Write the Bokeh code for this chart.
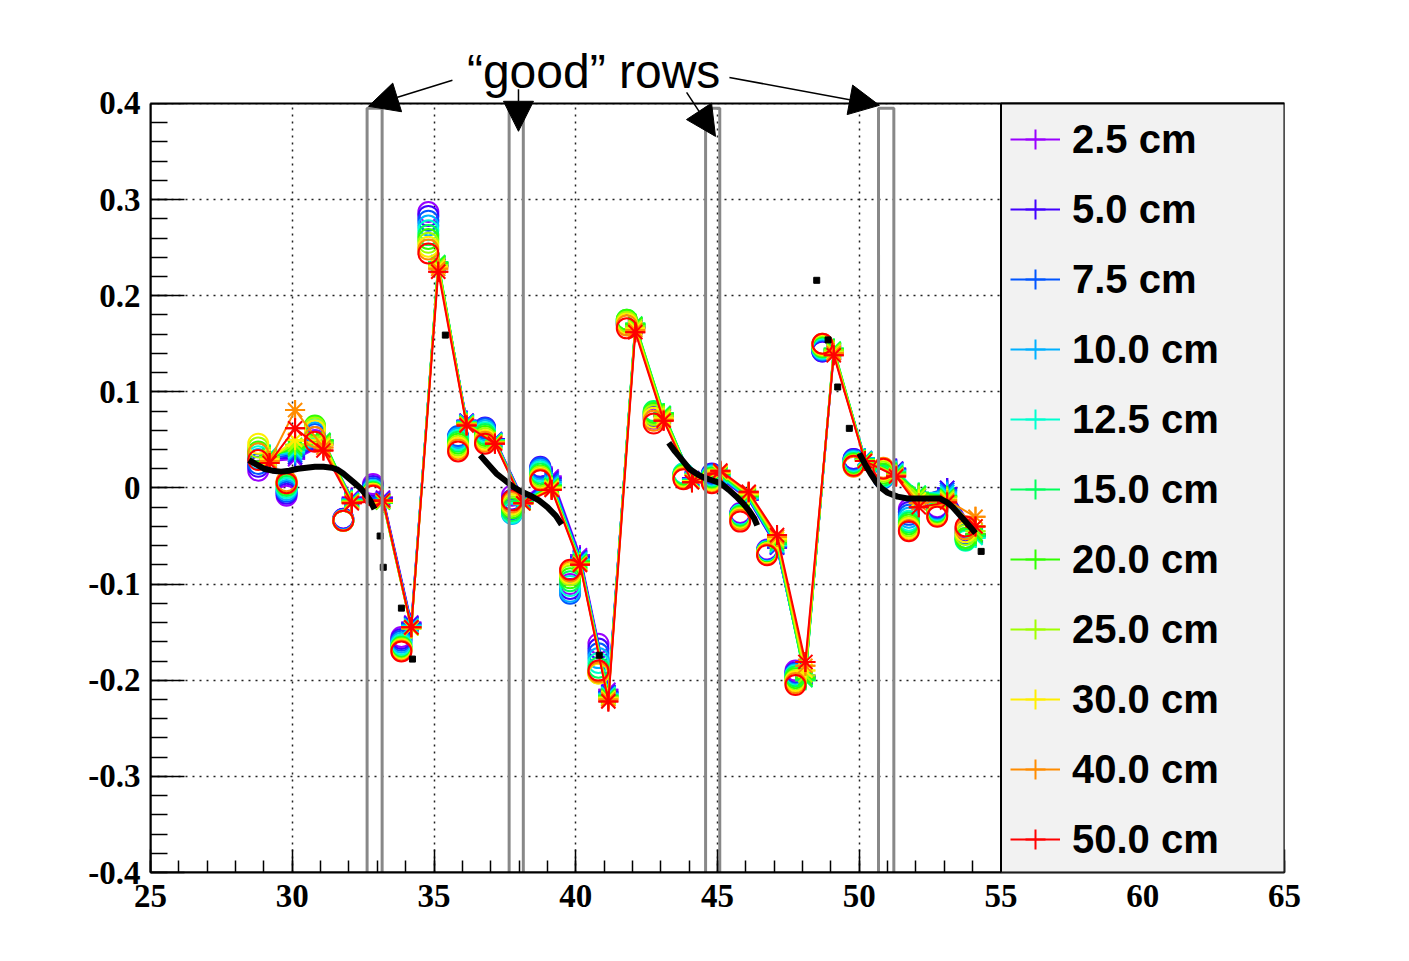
from bokeh.plotting import figure
from bokeh.models import (Range1d, FixedTicker, CustomJSTickFormatter, BoxAnnotation,
                          Legend, LegendItem, Arrow, NormalHead, Label, ColumnDataSource)
from bokeh.embed import file_html
from bokeh.resources import INLINE

# ---------------- data ----------------
series_labels = ["2.5 cm", "5.0 cm", "7.5 cm", "10.0 cm", "12.5 cm", "15.0 cm",
                 "20.0 cm", "25.0 cm", "30.0 cm", "40.0 cm", "50.0 cm"]
series_colors = ["#9900ff", "#4200ff", "#0055ff", "#00b0ff", "#00ffd0", "#00ff5a",
                 "#30ff00", "#a0ff00", "#ffee00", "#ff8c00", "#ff0000"]

circle_x = [28.8, 29.8, 30.8, 31.8, 32.85, 33.85, 34.8, 35.85, 36.8, 37.75, 38.75, 39.8, 40.8,
            41.8, 42.75, 43.8, 44.8, 45.8, 46.75, 47.75, 48.7, 49.8, 50.85, 51.75, 52.75, 53.75]
star_x = [29.2, 30.1, 31.1, 32.1, 33.2, 34.2, 35.15, 36.15, 37.15, 38.15, 39.15, 40.15, 41.15,
          42.1, 43.1, 44.1, 45.1, 46.1, 47.1, 48.1, 49.1, 50.2, 51.3, 52.1, 53.1, 54.1]

c_2p5 = [0.018, -0.008, 0.050, -0.032, 0.004, -0.155, 0.287, 0.052, 0.062, -0.008, 0.020, -0.100, -0.162,
         0.170, 0.072, 0.012, 0.014, -0.026, -0.064, -0.190, 0.142, 0.030, 0.012, -0.022, -0.020, -0.042]
c_5p0 = [0.022, -0.006, 0.053, -0.032, 0.002, -0.157, 0.283, 0.053, 0.063, -0.012, 0.022, -0.105, -0.167,
         0.171, 0.074, 0.013, 0.015, -0.027, -0.065, -0.192, 0.142, 0.030, 0.011, -0.025, -0.021, -0.045]
c_7p5 = [0.025, -0.004, 0.056, -0.033, 0.000, -0.159, 0.278, 0.054, 0.062, -0.022, 0.021, -0.110, -0.172,
         0.172, 0.076, 0.014, 0.014, -0.028, -0.065, -0.193, 0.143, 0.029, 0.010, -0.028, -0.022, -0.048]
c_10p0 = [0.030, -0.002, 0.058, -0.033, -0.002, -0.161, 0.273, 0.052, 0.060, -0.027, 0.019, -0.108, -0.177,
          0.173, 0.078, 0.015, 0.013, -0.028, -0.066, -0.194, 0.144, 0.028, 0.011, -0.031, -0.023, -0.052]
c_12p5 = [0.033, 0.000, 0.061, -0.034, -0.003, -0.163, 0.268, 0.050, 0.058, -0.026, 0.017, -0.102, -0.182,
          0.174, 0.079, 0.015, 0.012, -0.028, -0.066, -0.195, 0.145, 0.027, 0.012, -0.034, -0.024, -0.055]
c_15p0 = [0.036, 0.002, 0.064, -0.034, -0.004, -0.165, 0.263, 0.048, 0.056, -0.024, 0.015, -0.097, -0.187,
          0.175, 0.080, 0.014, 0.011, -0.029, -0.067, -0.196, 0.146, 0.026, 0.013, -0.036, -0.025, -0.054]
c_20p0 = [0.038, 0.004, 0.065, -0.034, -0.005, -0.166, 0.259, 0.046, 0.054, -0.021, 0.013, -0.094, -0.191,
          0.175, 0.078, 0.013, 0.010, -0.030, -0.067, -0.198, 0.147, 0.025, 0.015, -0.038, -0.026, -0.052]
c_25p0 = [0.042, 0.005, 0.063, -0.034, -0.006, -0.167, 0.255, 0.044, 0.052, -0.019, 0.012, -0.091, -0.193,
          0.173, 0.076, 0.012, 0.009, -0.031, -0.068, -0.200, 0.148, 0.024, 0.017, -0.040, -0.027, -0.049]
c_30p0 = [0.046, 0.006, 0.060, -0.034, -0.006, -0.168, 0.251, 0.042, 0.050, -0.017, 0.010, -0.089, -0.193,
          0.171, 0.073, 0.011, 0.008, -0.032, -0.068, -0.201, 0.149, 0.023, 0.019, -0.042, -0.028, -0.046]
c_40p0 = [0.036, 0.007, 0.053, -0.034, -0.007, -0.169, 0.248, 0.040, 0.048, -0.015, 0.009, -0.087, -0.192,
          0.169, 0.070, 0.010, 0.006, -0.033, -0.069, -0.203, 0.150, 0.022, 0.021, -0.044, -0.029, -0.043]
c_50p0 = [0.029, 0.005, 0.048, -0.034, -0.008, -0.170, 0.244, 0.038, 0.046, -0.013, 0.008, -0.085, -0.190,
          0.166, 0.067, 0.009, 0.005, -0.035, -0.070, -0.205, 0.150, 0.023, 0.020, -0.045, -0.030, -0.040]

s_2p5 = [0.028, 0.030, 0.045, -0.010, -0.010, -0.140, 0.230, 0.070, 0.050, -0.012, 0.012, -0.070, -0.210,
         0.166, 0.074, 0.010, 0.010, -0.012, -0.062, -0.195, 0.140, 0.030, 0.020, -0.012, 0.000, -0.048]
s_5p0 = [0.030, 0.032, 0.046, -0.011, -0.011, -0.141, 0.231, 0.070, 0.051, -0.013, 0.010, -0.072, -0.212,
         0.167, 0.075, 0.010, 0.011, -0.012, -0.062, -0.196, 0.141, 0.030, 0.020, -0.010, 0.000, -0.049]
s_7p5 = [0.032, 0.034, 0.047, -0.012, -0.012, -0.142, 0.232, 0.069, 0.050, -0.014, 0.008, -0.073, -0.213,
         0.168, 0.076, 0.009, 0.011, -0.011, -0.061, -0.197, 0.142, 0.031, 0.019, -0.008, -0.002, -0.050]
s_10p0 = [0.034, 0.036, 0.048, -0.012, -0.013, -0.143, 0.233, 0.069, 0.050, -0.014, 0.006, -0.074, -0.214,
          0.169, 0.077, 0.009, 0.012, -0.011, -0.060, -0.198, 0.143, 0.031, 0.018, -0.006, -0.004, -0.051]
s_12p5 = [0.035, 0.038, 0.049, -0.013, -0.014, -0.144, 0.234, 0.068, 0.049, -0.015, 0.004, -0.075, -0.215,
          0.170, 0.078, 0.008, 0.013, -0.010, -0.059, -0.199, 0.144, 0.030, 0.017, -0.005, -0.006, -0.052]
s_15p0 = [0.034, 0.040, 0.050, -0.013, -0.015, -0.145, 0.235, 0.068, 0.049, -0.015, 0.003, -0.076, -0.216,
          0.171, 0.078, 0.008, 0.014, -0.009, -0.058, -0.200, 0.145, 0.030, 0.016, -0.005, -0.008, -0.050]
s_20p0 = [0.033, 0.042, 0.049, -0.014, -0.015, -0.146, 0.234, 0.067, 0.048, -0.015, 0.002, -0.077, -0.217,
          0.170, 0.077, 0.007, 0.015, -0.008, -0.056, -0.198, 0.144, 0.029, 0.015, -0.006, -0.009, -0.048]
s_25p0 = [0.032, 0.045, 0.047, -0.014, -0.014, -0.146, 0.232, 0.067, 0.048, -0.016, 0.001, -0.078, -0.218,
          0.168, 0.075, 0.007, 0.016, -0.007, -0.055, -0.195, 0.143, 0.029, 0.014, -0.008, -0.010, -0.045]
s_30p0 = [0.030, 0.050, 0.045, -0.015, -0.014, -0.146, 0.230, 0.066, 0.047, -0.016, 0.000, -0.079, -0.219,
          0.166, 0.073, 0.007, 0.016, -0.006, -0.053, -0.190, 0.141, 0.028, 0.013, -0.012, -0.012, -0.040]
s_40p0 = [0.028, 0.081, 0.042, -0.015, -0.013, -0.145, 0.228, 0.066, 0.047, -0.016, -0.001, -0.079, -0.220,
          0.164, 0.071, 0.006, 0.017, -0.005, -0.051, -0.185, 0.140, 0.028, 0.013, -0.016, -0.013, -0.030]
s_50p0 = [0.026, 0.062, 0.039, -0.016, -0.013, -0.145, 0.225, 0.065, 0.046, -0.016, -0.002, -0.080, -0.222,
          0.162, 0.070, 0.006, 0.018, -0.004, -0.049, -0.181, 0.138, 0.028, 0.012, -0.020, -0.015, -0.040]

circle_y = [c_2p5, c_5p0, c_7p5, c_10p0, c_12p5, c_15p0, c_20p0, c_25p0, c_30p0, c_40p0, c_50p0]
star_y = [s_2p5, s_5p0, s_7p5, s_10p0, s_12p5, s_15p0, s_20p0, s_25p0, s_30p0, s_40p0, s_50p0]

# black reference curve (dense segments) and isolated black points
curve1_x = [28.47, 28.7, 29.0, 29.3, 29.6, 29.9, 30.2, 30.5, 30.8, 31.1, 31.4, 31.6, 31.8, 32.0, 32.2, 32.4, 32.6, 32.75, 32.9]
curve1_y = [0.029, 0.025, 0.020, 0.018, 0.017, 0.018, 0.020, 0.021, 0.022, 0.022, 0.021, 0.019, 0.015, 0.010, 0.005, 0.000, -0.007, -0.013, -0.022]
curve2_x = [36.63, 36.9, 37.2, 37.5, 37.8, 38.1, 38.4, 38.7, 39.0, 39.3, 39.5]
curve2_y = [0.034, 0.025, 0.015, 0.008, 0.001, -0.004, -0.008, -0.013, -0.020, -0.029, -0.038]
curve3_x = [43.28, 43.5, 43.67, 44.0, 44.25, 44.5, 44.8, 45.1, 45.4, 45.7, 45.9, 46.1, 46.3, 46.4]
curve3_y = [0.047, 0.038, 0.032, 0.020, 0.015, 0.011, 0.008, 0.005, -0.002, -0.010, -0.016, -0.023, -0.032, -0.039]
curve4_x = [50.0, 50.2, 50.4, 50.6, 50.77, 51.0, 51.35, 51.7, 52.0, 52.4, 52.85, 53.1, 53.3, 53.6, 53.9, 54.1]
curve4_y = [0.036, 0.025, 0.015, 0.006, 0.000, -0.005, -0.009, -0.011, -0.011, -0.011, -0.011, -0.015, -0.020, -0.030, -0.040, -0.047]
dots_x = [33.1, 33.21, 33.85, 34.24, 35.4, 40.83, 48.5, 48.9, 49.24, 49.65, 54.3]
dots_y = [-0.050, -0.0825, -0.125, -0.178, 0.159, -0.174, 0.216, 0.154, 0.105, 0.062, -0.066]

# "good" rows boxes
good_left = [32.64, 37.65, 44.58, 50.68]
good_right = [33.17, 38.15, 45.08, 51.22]
good_bottom = [-0.401, -0.401, -0.401, -0.401]
good_top = [0.395, 0.395, 0.395, 0.395]

# annotation arrows
arrow_x0 = [35.65, 37.98, 43.91, 45.42]
arrow_y0 = [0.424, 0.4146, 0.4114, 0.427]
arrow_x1 = [32.69, 37.98, 44.93, 50.71]
arrow_y1 = [0.397, 0.371, 0.3657, 0.398]
annot_text = "\u201cgood\u201d rows"

x_ticks = [25, 30, 35, 40, 45, 50, 55, 60, 65]
x_minor = list(range(25, 66))
y_ticks = [-0.4, -0.3, -0.2, -0.1, 0, 0.1, 0.2, 0.3, 0.4]
y_tick_labels = ["-0.4", "-0.3", "-0.2", "-0.1", "0", "0.1", "0.2", "0.3", "0.4"]
y_minor = [round(-0.4 + 0.02 * i, 2) for i in range(41)]

# ---------------- figure ----------------
p = figure(frame_width=1134, frame_height=846,
           x_range=Range1d(25, 65), y_range=Range1d(-0.4, 0.48),
           output_backend="svg", toolbar_location=None,
           min_border_left=150, min_border_top=26, min_border_right=110, min_border_bottom=70,
           background_fill_color="white", border_fill_color="white")
p.outline_line_color = None

# axes
p.xaxis.ticker = FixedTicker(ticks=x_ticks, minor_ticks=x_minor)
p.yaxis.ticker = FixedTicker(ticks=y_ticks, minor_ticks=y_minor)
p.yaxis.bounds = (-0.4, 0.4)
p.yaxis.formatter = CustomJSTickFormatter(code="return Math.abs(tick) < 1e-9 ? '0' : tick.toFixed(1);")
p.yaxis.major_label_overrides = {t: l for t, l in zip(y_ticks, y_tick_labels)}
for ax in (p.xaxis[0], p.yaxis[0]):
    ax.axis_line_width = 2
    ax.axis_line_color = "black"
    ax.major_tick_line_width = 1.5
    ax.minor_tick_line_width = 1.5
    ax.major_tick_out = 0
    ax.minor_tick_out = 0
    ax.major_label_text_font = "Liberation Serif"
    ax.major_label_text_font_style = "bold"
    ax.major_label_text_font_size = "33px"
    ax.major_label_text_color = "black"
p.xaxis.major_tick_in = 23
p.xaxis.minor_tick_in = 12
p.yaxis.major_tick_in = 34
p.yaxis.minor_tick_in = 17
p.yaxis.major_label_standoff = 10
p.xaxis.major_label_standoff = 12

# grid
p.xgrid.ticker = FixedTicker(ticks=x_ticks)
p.ygrid.ticker = FixedTicker(ticks=y_ticks)
for g in (p.xgrid[0], p.ygrid[0]):
    g.grid_line_color = "#222222"
    g.grid_line_width = 1.5
    g.grid_line_dash = "2 5"

# series
legend_items = []
for i, lab in enumerate(series_labels):
    col = series_colors[i]
    src_c = ColumnDataSource(dict(x=circle_x, y=circle_y[i]))
    src_s = ColumnDataSource(dict(x=star_x, y=star_y[i]))
    p.scatter("x", "y", source=src_c, marker="circle", size=20, fill_color=None,
              line_color=col, line_width=2)
    lr = p.line("x", "y", source=src_s, line_color=col, line_width=2)
    cr = p.scatter("x", "y", source=src_s, marker="cross", size=20, line_color=col, line_width=2)
    p.scatter("x", "y", source=src_s, marker="asterisk", size=20, line_color=col, line_width=2)
    legend_items.append(LegendItem(label=lab, renderers=[lr, cr]))

# black reference curve
p.multi_line(xs=[curve1_x, curve2_x, curve3_x, curve4_x],
             ys=[curve1_y, curve2_y, curve3_y, curve4_y], line_color="black", line_width=6)
p.scatter(dots_x, dots_y, marker="square", size=6, fill_color="black", line_color="black")

# good-row boxes
p.quad(left=good_left, right=good_right, bottom=good_bottom, top=good_top,
       fill_color=None, line_color="#888888", line_width=3)

# mask above the frame (area used for the annotation)
p.add_layout(BoxAnnotation(left=25, right=65, bottom=0.4, top=0.48, fill_color="white",
                           fill_alpha=1, line_color=None))
# frame box
p.add_layout(BoxAnnotation(left=25, right=65, bottom=-0.4, top=0.4, fill_color=None,
                           line_color="black", line_width=2, line_alpha=1))
# legend box
p.add_layout(BoxAnnotation(left=55, right=65, bottom=-0.4, top=0.4, fill_color="#f2f2f2",
                           fill_alpha=1, line_color="black", line_width=2, line_alpha=1))

legend = Legend(items=legend_items, location=(860, -2), orientation="vertical",
                glyph_width=50, glyph_height=70, label_height=70, spacing=0, padding=0,
                margin=0, label_standoff=12, label_text_font="Liberation Sans",
                label_text_font_style="bold", label_text_font_size="40px",
                label_text_color="black", background_fill_alpha=0, border_line_alpha=0)
p.add_layout(legend)

# annotation
for x0, y0, x1, y1 in zip(arrow_x0, arrow_y0, arrow_x1, arrow_y1):
    p.add_layout(Arrow(end=NormalHead(size=30, fill_color="black", line_color="black", line_width=1),
                       x_start=x0, y_start=y0, x_end=x1, y_end=y1,
                       line_color="black", line_width=1.5))
p.add_layout(Label(x=40.63, y=0.4335, text=annot_text, text_align="center",
                   text_baseline="alphabetic", text_font="Liberation Sans",
                   text_font_size="48px", text_color="black"))

open("out.html", "w").write(file_html(p, INLINE))
